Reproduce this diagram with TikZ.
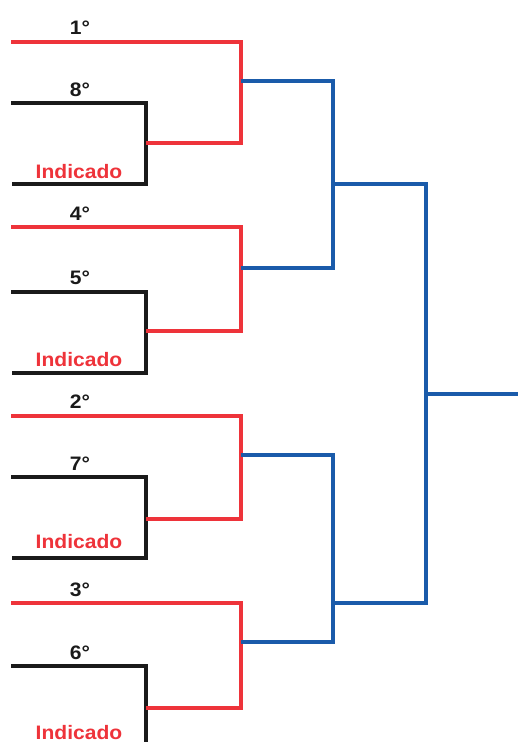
\documentclass[tikz,border=0pt]{standalone}
\usepackage{fontspec}
\setmainfont{Liberation Sans}
\newfontfamily\lblfont[FakeStretch=1.08]{Liberation Sans}
\definecolor{bred}{HTML}{EE333A}
\definecolor{bblue}{HTML}{1A5BAA}
\definecolor{bblack}{HTML}{1A1A1A}
\tikzset{
  redline/.style={draw=bred,line width=4pt,line join=miter},
  blueline/.style={draw=bblue,line width=4pt,line join=miter},
  blackline/.style={draw=bblack,line width=4pt,line join=miter},
  seedlbl/.style={anchor=base,inner sep=0pt,text=bblack,font=\lblfont\bfseries\fontsize{19.5}{20}\selectfont},
  indlbl/.style={anchor=base,inner sep=0pt,text=bred,font=\lblfont\bfseries\fontsize{19.5}{20}\selectfont}
}
\begin{document}
\begin{tikzpicture}[x=1pt,y=-1pt]
\useasboundingbox (0,0) rectangle (518,742);
% group data: top red y, black top y, red lower y, black bottom y, blue y, indicado baseline
\foreach \g/\top/\btop/\rlow/\bbot/\bl/\ind/\sa/\sb in {
  1/41.7/103.3/142.7/184.3/80.7/178/1/8,
  2/227.3/291.7/331/373.3/268/366/4/5,
  3/415.7/477/518.5/558.3/455/548/2/7,
  4/603/666/707.7/748/641.5/739/3/6}{
  \coordinate (rt\g) at (11,\top);
  \coordinate (rc\g) at (241,\top);
  \coordinate (rb\g) at (241,\rlow);
  \coordinate (rm\g) at (146,\rlow);
  \coordinate (bt\g) at (11,\btop);
  \coordinate (btc\g) at (146,\btop);
  \coordinate (bbc\g) at (146,\bbot);
  \coordinate (bb\g) at (12,\bbot);
  \coordinate (bo\g) at (241,\bl);
  \coordinate (bi\g) at (333,\bl);
  \draw[blackline] (bt\g) -- (btc\g) -- (bbc\g) -- (bb\g);
  \draw[redline] (rt\g) -- (rc\g) -- (rb\g) -- (rm\g);
  \node[seedlbl] (sa\g) at (80,\top-7) {\sa°};
  \node[seedlbl] (sb\g) at (80,\btop-7) {\sb°};
  \node[indlbl] (ind\g) at (79,\ind) {Indicado};
}
% semifinal
\coordinate (s1) at (333,184);
\coordinate (s1r) at (426,184);
\coordinate (s2) at (333,603);
\coordinate (s2r) at (426,603);
\coordinate (f) at (426,394);
\coordinate (fr) at (518,394);
\draw[blueline] (bo1) -- (bi1) -- (bi2) -- (bo2);
\draw[blueline] (bo3) -- (bi3) -- (bi4) -- (bo4);
\draw[blueline] (s1) -- (s1r) -- (s2r) -- (s2);
\draw[blueline] (f) -- (fr);
\end{tikzpicture}
\end{document}
